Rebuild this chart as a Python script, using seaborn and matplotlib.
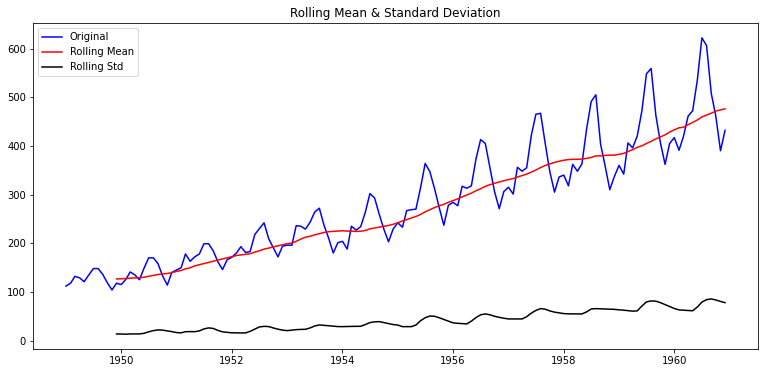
import numpy as np
import pandas as pd
import matplotlib
matplotlib.use('Agg')
import matplotlib.pyplot as plt
import matplotlib.dates as mdates
import seaborn as sns

# monthly airline passengers, Jan 1949 - Dec 1960
passengers = [
    112, 118, 132, 129, 121, 135, 148, 148, 136, 119, 104, 118,
    115, 126, 141, 135, 125, 149, 170, 170, 158, 133, 114, 140,
    145, 150, 178, 163, 172, 178, 199, 199, 184, 162, 146, 166,
    171, 180, 193, 181, 183, 218, 230, 242, 209, 191, 172, 194,
    196, 196, 236, 235, 229, 243, 264, 272, 237, 211, 180, 201,
    204, 188, 235, 227, 234, 264, 302, 293, 259, 229, 203, 229,
    242, 233, 267, 269, 270, 315, 364, 347, 312, 274, 237, 278,
    284, 277, 317, 313, 318, 374, 413, 405, 355, 306, 271, 306,
    315, 301, 356, 348, 355, 422, 465, 467, 404, 347, 305, 336,
    340, 318, 362, 348, 363, 435, 491, 505, 404, 359, 310, 337,
    360, 342, 406, 396, 420, 472, 548, 559, 463, 407, 362, 405,
    417, 391, 419, 461, 472, 535, 622, 606, 508, 461, 390, 432,
]

# 12-month rolling mean, Dec 1949 - Dec 1960
rolling_mean = [
    126.67,
    126.92, 127.58, 128.33, 128.83, 129.17, 130.33, 132.17, 134.0, 135.83, 137.0, 137.83, 139.67,
    142.17, 144.17, 147.25, 149.58, 153.5, 155.92, 158.33, 160.75, 162.92, 165.33, 168.0, 170.17,
    172.33, 174.83, 176.08, 177.58, 178.5, 181.83, 184.42, 188.0, 190.08, 192.5, 194.67, 197.0,
    199.08, 200.42, 204.0, 208.5, 212.33, 214.42, 217.25, 219.75, 222.08, 223.75, 224.42, 225.0,
    225.67, 225.0, 224.92, 224.25, 224.67, 226.42, 229.58, 231.33, 233.17, 234.67, 236.58, 238.92,
    242.08, 245.83, 248.5, 252.0, 255.0, 259.25, 264.42, 268.92, 273.33, 277.08, 279.92, 284.0,
    287.5, 291.17, 295.33, 299.0, 303.0, 307.92, 312.0, 316.83, 320.42, 323.08, 325.92, 328.25,
    330.83, 332.83, 336.08, 339.0, 342.08, 346.08, 350.42, 355.58, 359.67, 363.08, 365.92, 368.42,
    370.5, 371.92, 372.42, 372.42, 373.08, 374.17, 376.33, 379.5, 379.5, 380.5, 380.92, 381.0,
    382.67, 384.67, 388.33, 392.33, 397.08, 400.17, 404.92, 409.42, 414.33, 418.33, 422.67, 428.33,
    433.08, 437.17, 438.25, 443.67, 448.0, 453.25, 459.42, 463.33, 467.08, 471.58, 473.92, 476.17,
]

# 12-month rolling std, Dec 1949 - Dec 1960
rolling_std = [
    13.7,
    13.5, 13.2, 13.7, 13.8, 13.7, 15.0, 18.0, 20.5, 22.0, 21.5, 20.0, 18.5,
    16.5, 16.0, 18.3, 18.5, 18.3, 20.0, 24.0, 26.1, 25.0, 21.0, 18.0, 17.0,
    16.0, 15.8, 15.8, 15.8, 19.0, 23.5, 28.0, 29.3, 28.8, 26.0, 23.5, 21.5,
    20.5, 21.5, 22.5, 23.0, 23.2, 26.0, 30.0, 32.2, 31.4, 30.5, 29.7, 28.8,
    28.7, 29.0, 29.2, 29.3, 29.4, 33.0, 37.0, 38.5, 39.0, 37.0, 35.0, 33.0,
    32.0, 28.7, 28.7, 28.7, 32.0, 41.0, 47.0, 50.5, 50.0, 47.0, 43.5, 40.0,
    36.5, 35.5, 35.0, 34.3, 40.0, 47.5, 53.0, 54.8, 53.0, 50.0, 47.8, 46.0,
    44.5, 44.5, 44.5, 44.5, 49.0, 56.5, 62.0, 65.7, 64.5, 61.0, 58.5, 57.0,
    55.5, 55.0, 54.8, 54.8, 54.8, 59.0, 65.0, 65.7, 65.3, 65.0, 64.7, 64.2,
    63.2, 62.5, 61.5, 60.5, 61.0, 71.0, 79.5, 81.5, 81.0, 78.0, 74.0, 70.0,
    66.0, 63.0, 62.5, 62.0, 61.3, 69.0, 79.0, 84.2, 85.6, 83.5, 80.5, 78.0,
]

dates = pd.date_range('1949-01-01', periods=len(passengers), freq='MS')
roll_dates = dates[len(dates) - len(rolling_mean):]

orig_df = pd.DataFrame({'Month': dates, 'value': passengers})
roll_df = pd.DataFrame({'Month': roll_dates, 'mean': rolling_mean, 'std': rolling_std})

fig = plt.figure(figsize=(765 / 72, 373 / 72), dpi=72)
ax = fig.add_axes([33 / 765, 1 - 349 / 373, (758 - 33) / 765, (349 - 23) / 373])

sns.lineplot(data=orig_df, x='Month', y='value', color='blue', label='Original', ax=ax)
sns.lineplot(data=roll_df, x='Month', y='mean', color='red', label='Rolling Mean', ax=ax)
sns.lineplot(data=roll_df, x='Month', y='std', color='black', label='Rolling Std', ax=ax)

ax.xaxis.set_major_locator(mdates.YearLocator(2))
ax.xaxis.set_major_formatter(mdates.DateFormatter('%Y'))
ax.set_xlabel('')
ax.set_ylabel('')
ax.set_title('Rolling Mean & Standard Deviation')
ax.legend(loc='best')

fig.savefig('out.png', dpi=72)
